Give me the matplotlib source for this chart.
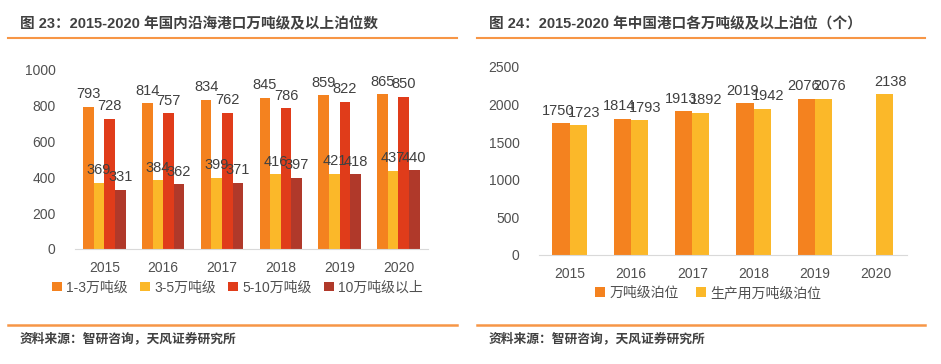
import numpy as np
from matplotlib import pyplot as plt
from matplotlib.lines import Line2D

plt.rcParams['font.family'] = ['Liberation Sans', 'Noto Sans CJK SC', 'DejaVu Sans']

years = ['2015', '2016', '2017', '2018', '2019', '2020']

# 图23：国内沿海港口万吨级及以上泊位数
coastal_names = ['1-3万吨级', '3-5万吨级', '5-10万吨级', '10万吨级以上']
coastal_1_3 = [793, 814, 834, 845, 859, 865]
coastal_3_5 = [369, 384, 399, 416, 421, 437]
coastal_5_10 = [728, 757, 762, 786, 822, 850]
coastal_10_up = [331, 362, 371, 397, 418, 440]

# 图24：中国港口各万吨级及以上泊位
port_names = ['万吨级泊位', '生产用万吨级泊位']
port_total = [1750, 1814, 1913, 2019, 2076, np.nan]
port_production = [1723, 1793, 1892, 1942, 2076, 2138]

c_orange = '#F4821F'
c_yellow = '#FBB829'
c_red = '#E03C1A'
c_dark = '#B0392A'
text_c = '#404040'
tick_c = '#505050'
line_c = '#F79646'


def style_axes(ax, ymax, step):
    for s in ['top', 'right', 'left']:
        ax.spines[s].set_visible(False)
    ax.spines['bottom'].set_color('#D9D9D9')
    ax.set_ylim(0, ymax)
    ax.set_yticks(np.arange(0, ymax + 1, step))
    ax.set_xlim(-0.5, 5.5)
    ax.set_xticks(range(len(years)))
    ax.set_xticklabels(years)
    ax.tick_params(length=0, labelsize=10, colors=tick_c)
    ax.tick_params(axis='y', pad=14)
    ax.tick_params(axis='x', pad=9)


def label_bars(ax, bars, values, dx=0):
    for b, v in zip(bars, values):
        if np.isnan(v):
            continue
        ax.annotate(f'{v:.0f}', (b.get_x() + b.get_width() / 2, b.get_height()),
                    xytext=(dx, 4), textcoords='offset points', ha='center', va='bottom',
                    fontsize=10.5, color=text_c)


fig = plt.figure(figsize=(9.41, 3.64), dpi=100)

# left chart
ax1 = fig.add_axes([0.0797, 0.316, 0.375, 0.492])
x = np.arange(len(years))
w = 0.18
series1 = [coastal_1_3, coastal_3_5, coastal_5_10, coastal_10_up]
colors1 = [c_orange, c_yellow, c_red, c_dark]
for i, (vals, col, name) in enumerate(zip(series1, colors1, coastal_names)):
    bars = ax1.bar(x + (i - 1.5) * w, vals, w, color=col, label=name)
    label_bars(ax1, bars, vals)
style_axes(ax1, 1000, 200)
ax1.legend(loc='upper left', bbox_to_anchor=(-0.08, -0.145), ncol=4, frameon=False,
           handlelength=0.7, handleheight=0.7, handletextpad=0.3, columnspacing=0.9,
           fontsize=10, labelcolor=tick_c, borderaxespad=0)

# right chart
ax2 = fig.add_axes([0.5728, 0.2995, 0.391, 0.5165])
w2 = 0.28
series2 = [port_total, port_production]
colors2 = [c_orange, c_yellow]
for i, (vals, col, name) in enumerate(zip(series2, colors2, port_names)):
    bars = ax2.bar(x + (i - 0.5) * w2, vals, w2, color=col, label=name)
    label_bars(ax2, bars, vals, dx=(-2 if i == 0 else 4))
style_axes(ax2, 2500, 500)
ax2.legend(loc='upper center', bbox_to_anchor=(0.46, -0.135), ncol=2, frameon=False,
           handlelength=0.7, handleheight=0.7, handletextpad=0.3, columnspacing=1.3,
           fontsize=10, labelcolor=tick_c, borderaxespad=0)

# titles, rules and source lines
W, H = 941, 364
for x0, x1, title in [(8, 457, '图 23：2015-2020 年国内沿海港口万吨级及以上泊位数'),
                      (477, 925, '图 24：2015-2020 年中国港口各万吨级及以上泊位（个）')]:
    fig.text((x0 + 12) / W, 1 - 24 / H, title, fontsize=10.5, fontweight='bold',
             color=text_c, va='center', ha='left')
    fig.add_artist(Line2D([x0 / W, x1 / W], [1 - 38 / H] * 2, color=line_c, lw=1.5))
    fig.add_artist(Line2D([x0 / W, x1 / W], [1 - 325 / H] * 2, color=line_c, lw=1.8))
    fig.text((x0 + 12) / W, 1 - 339 / H, '资料来源：智研咨询，天风证券研究所', fontsize=9.2,
             fontweight='bold', color=text_c, va='center', ha='left')

fig.savefig('out.png', dpi=100)
